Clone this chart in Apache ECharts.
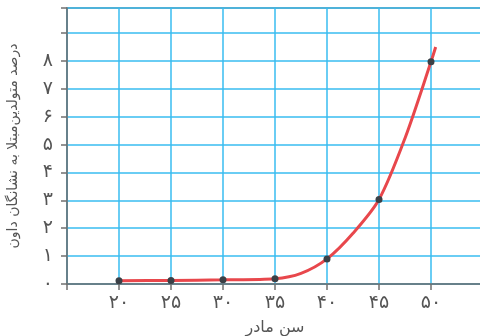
<!DOCTYPE html>
<html>
<head>
<meta charset="utf-8">
<script src="https://cdn.jsdelivr.net/npm/echarts@6/dist/echarts.min.js"></script>
<style>
  html, body { margin: 0; padding: 0; background: #fff; }
  #chart { width: 480px; height: 336px; }
</style>
</head>
<body>
<div id="chart"></div>
<script>
// سن مادر (سال)
const ages = [20, 25, 30, 35, 37.5, 40, 42.5, 45, 47.5, 50, 50.45]
// درصد متولدین مبتلا
const percents = [0.12, 0.13, 0.15, 0.19, 0.38, 0.9, 1.82, 3.03, 5.23, 7.97, 8.5]
// only the marked ages get a dot
const markerShown = [true, true, true, true, false, true, false, true, false, true, false]

const yTickLabels = ['۰', '۱', '۲', '۳', '۴', '۵', '۶', '۷', '۸', '']
const xTickLabels = { 20: '۲۰', 25: '۲۵', 30: '۳۰', 35: '۳۵', 40: '۴۰', 45: '۴۵', 50: '۵۰' }

const xName = 'سن مادر'
const yName = 'درصد متولدین\u200cمبتلا به نشانگان داون'

let chartDom = document.getElementById('chart')
let myChart = echarts.init(chartDom)

let seriesData = []
for (let i = 0; i < ages.length; i++) {
  let item = { value: [ages[i], percents[i]] }
  if (!markerShown[i]) item.symbol = 'none'
  seriesData.push(item)
}

let option = {
  animation: false,
  textStyle: { fontFamily: 'DejaVu Sans' },
  grid: {
    left: 67,
    top: 8,
    right: -3,
    bottom: 52,
    outerBoundsMode: 'none',
    containLabel: false,
    show: true,
    borderColor: '#707070',
    borderWidth: 1.5
  },
  xAxis: {
    type: 'value',
    min: 15,
    max: 55,
    interval: 5,
    name: xName,
    nameLocation: 'middle',
    nameGap: 36,
    nameTextStyle: { fontSize: 16, color: '#555' },
    axisLine: { show: true, onZero: false, lineStyle: { color: '#707070', width: 1.5 } },
    axisTick: { show: true, length: 6, lineStyle: { color: '#707070', width: 1.5 } },
    axisLabel: {
      margin: 10,
      fontSize: 19,
      color: '#555',
      formatter: function (v) { return xTickLabels[v] || '' }
    },
    splitLine: { show: true, lineStyle: { color: '#39bdf0', width: 1.5 } }
  },
  yAxis: {
    type: 'value',
    min: 0,
    max: 9.9,
    interval: 1,
    name: yName,
    nameLocation: 'middle',
    nameRotate: 90,
    nameGap: 47,
    nameTextStyle: { fontSize: 14, color: '#555' },
    axisLine: { show: true, lineStyle: { color: '#707070', width: 1.5 } },
    axisTick: { show: true, length: 6, lineStyle: { color: '#707070', width: 1.5 } },
    axisLabel: {
      margin: 14,
      fontSize: 19,
      color: '#555',
      formatter: function (v) { return yTickLabels[Math.round(v)] || '' }
    },
    splitLine: { show: true, lineStyle: { color: '#39bdf0', width: 1.5 } }
  },
  series: [
    {
      type: 'line',
      data: seriesData,
      smooth: 0.3,
      symbol: 'circle',
      symbolSize: 7,
      itemStyle: { color: '#3b4046' },
      lineStyle: { color: '#e8474c', width: 3 },
      z: 3
    }
  ]
}

option && myChart.setOption(option)
</script>
</body>
</html>
